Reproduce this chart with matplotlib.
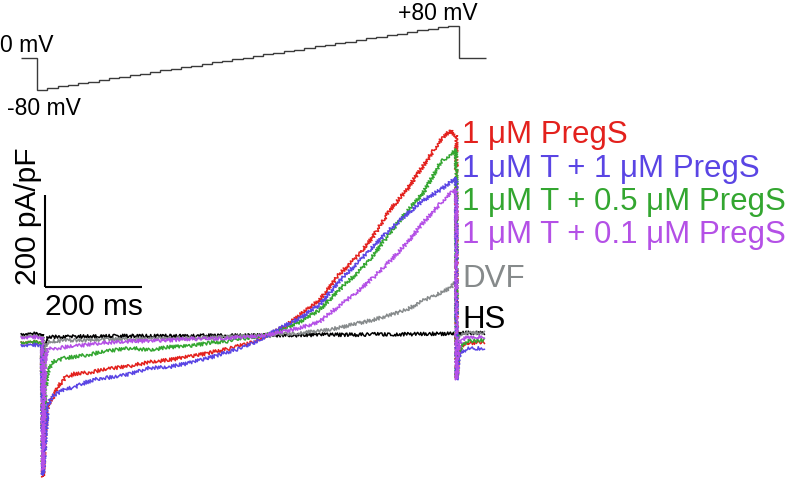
import matplotlib
matplotlib.use("Agg")
import matplotlib.pyplot as plt
import numpy as np

plt.rcParams['font.family'] = ['Liberation Sans', 'DejaVu Sans']

# --- current traces (time in ms from ramp start, current in pA/pF) ---
t_ms = [-45, -2, 0, 5, 10, 20, 30, 45, 65, 90, 120, 150, 180, 220, 260, 300, 340,
        380, 420, 460, 500, 530, 570, 610, 650, 680, 715, 750, 785, 820, 840, 852,
        853, 856, 862, 875, 910]

i_pregs = [-11, -11, -304, -202, -148, -133, -109, -89, -80, -78, -72, -67, -63, -54,
           -50, -43, -35, -26, -15, 2, 24, 48, 80, 135, 178, 217, 276, 320, 374, 428,
           450, 435, -89, -39, -20, -13, -11]
i_t_1pregs = [-17, -17, -300, -224, -148, -128, -122, -113, -109, -98, -89, -87, -80,
              -67, -65, -57, -46, -33, -20, 2, 26, 41, 70, 120, 163, 196, 233, 267, 298,
              320, 337, 346, -93, -54, -33, -26, -24]
i_t_05pregs = [-11, -11, -278, -115, -76, -54, -50, -46, -43, -39, -33, -28, -24, -28,
               -22, -20, -13, -9, -2, 4, 20, 33, 59, 102, 141, 176, 226, 272, 315, 380,
               396, 407, -89, -41, -20, -9, -7]
i_t_01pregs = [0, 0, -289, -41, -28, -24, -24, -22, -20, -17, -13, -11, -9, -9, -7, -4,
               -4, -2, 0, 4, 13, 20, 33, 67, 100, 128, 165, 204, 250, 291, 313, 320,
               -93, -28, -7, 0, 0]
i_dvf = [2, 2, -202, -17, -11, -9, -9, -7, -7, -7, -5, -5, -4, -4, -3, -2, -2, 0, 2, 2,
         7, 9, 13, 20, 30, 37, 48, 59, 80, 96, 107, 120, -50, 0, 7, 9, 9]
i_hs = [7, 7, -93, -7, -2, 0, 0, 0, 1, 1, 1, 2, 2, 2, 2, 2, 3, 3, 3, 4, 4, 4, 5, 5, 5,
        6, 6, 6, 7, 7, 7, 7, -7, 7, 9, 9, 9]

labels = ['1 \u03bcM PregS', '1 \u03bcM T + 1 \u03bcM PregS', '1 \u03bcM T + 0.5 \u03bcM PregS',
          '1 \u03bcM T + 0.1 \u03bcM PregS', 'DVF', 'HS']
label_y = [422, 348, 276, 204, 109, 20]  # baselines, pA/pF
colors = ['#e3211d', '#5a45e4', '#33a630', '#b450e6', '#868a8b', '#000000']

# --- voltage protocol ---
v_levels = [-80, -76, -72, -68, -64, -60, -56, -52, -48, -44, -40, -36, -32, -28,
            -24, -20, -16, -12, -8, -4, 0, 4, 8, 12, 16, 20, 24, 28, 32, 36, 40, 44,
            48, 52, 56, 60, 64, 68, 72, 76, 80]
hold_mv = 0
pre_ms, step_ms, post_ms = 33, 21.2, 56

# --- layout: pixel scales for a 793x478 figure ---
W, H = 793, 478
ms_per_px = 200 / 97
pa_per_px = 200 / 92
mv_per_px = 1 / 0.4

fig = plt.figure(figsize=(W / 100, H / 100), dpi=100)

# current panel
ax = fig.add_axes([0, 0, 1, 1])
ax.set_xlim(-43 * ms_per_px, (W - 43) * ms_per_px)
ax.set_ylim((337 - H) * pa_per_px, 337 * pa_per_px)
ax.axis('off')

traces = [i_pregs, i_t_1pregs, i_t_05pregs, i_t_01pregs, i_dvf, i_hs]
order = [5, 4, 0, 2, 1, 3]
for k in order:
    ln, = ax.plot(t_ms, traces[k], color=colors[k], lw=1.1)
    ln.set_sketch_params(scale=1.8, length=2.2, randomness=2.0)

for lab, yb, c in zip(labels, label_y, colors):
    ax.text((462 - 43) * ms_per_px, yb, lab, color=c, fontsize=22.5,
            ha='left', va='baseline')

# scale bars
sb_x, sb_y = 4, 109
ax.plot([sb_x, sb_x], [sb_y, sb_y + 200], color='black', lw=1.5, solid_capstyle='butt')
ax.plot([sb_x, sb_x + 200], [sb_y, sb_y], color='black', lw=1.5, solid_capstyle='butt')
ax.text(-31, 262, '200 pA/pF', rotation=90, fontsize=21.5, ha='center', va='center')
ax.text(sb_x + 100, 65, '200 ms', fontsize=21.5, ha='center', va='center')

# voltage panel
axv = fig.add_axes([0, 0, 1, 1])
axv.set_xlim(-37 * ms_per_px, (W - 37) * ms_per_px)
axv.set_ylim((57.5 - H) * mv_per_px, 57.5 * mv_per_px)
axv.axis('off')
axv.patch.set_alpha(0)

edges = np.concatenate([[-pre_ms], np.cumsum([0] + [step_ms] * len(v_levels)),
                        [len(v_levels) * step_ms + post_ms]])
vals = [hold_mv] + v_levels + [hold_mv]
axv.stairs(vals, edges, color='#3a3a3a', lw=1.0, baseline=None)

axv.text(-37 * ms_per_px, 13.75, '0 mV', fontsize=16.5, ha='left', va='baseline')
axv.text(-62, -143.75, '-80 mV', fontsize=16.5, ha='left', va='baseline')
axv.text(744, 93.75, '+80 mV', fontsize=16.5, ha='left', va='baseline')

fig.savefig('out.png', dpi=100)
